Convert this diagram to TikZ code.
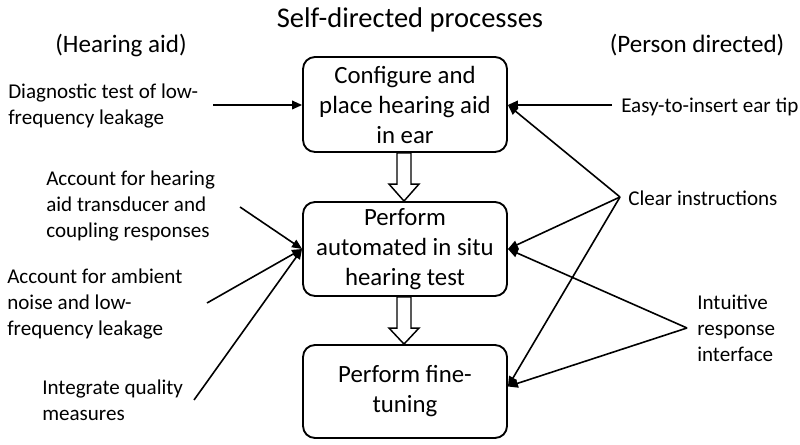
\documentclass[tikz,border=0pt]{standalone}
\usepackage{fontspec}
\setmainfont{Carlito}
\usetikzlibrary{arrows.meta,calc}
\begin{document}
\begin{tikzpicture}[x=0.75pt,y=-0.75pt,
  procbox/.style={draw,line width=1.4pt,rounded corners=9pt,minimum width=153pt,align=center,inner sep=0pt,font=\fontsize{18.6}{22.5}\selectfont},
  lbl/.style={inner sep=0pt,align=left,font=\fontsize{15.8}{19.5}\selectfont},
  head/.style={inner sep=0pt,font=\fontsize{18.8}{22}\selectfont},
  arr/.style={line width=1.2pt,-{Triangle[length=7.5pt,width=6.5pt]}},
  hollow/.style={draw,line width=1.1pt,fill=white,line join=miter}]
\clip (0,0) rectangle (800,445);
\fill[white] (0,0) rectangle (800,445);
% titles
\node[head,font=\fontsize{21.4}{24}\selectfont] (title) at (410,20) {Self-directed processes};
\node[head] (ha) at (121,45) {(Hearing aid)};
\node[head] (pd) at (697,45) {(Person directed)};
% process boxes
\node[procbox,minimum height=71.25pt] (b1) at (405,104.5) {Configure and\\place hearing aid\\in ear};
\node[procbox,minimum height=70.5pt] (b2) at (405,249) {Perform\\automated in situ\\hearing test};
\node[procbox,minimum height=69.75pt] (b3) at (405,391.5) {Perform fine-\\tuning};
% hollow arrows
\draw[hollow] ($(b1.south)+(-8,0)$) -- ($(b1.south)+(6,0)$) -- ($(b2.north)+(6,-17)$) -- ($(b2.north)+(14,-17)$) -- ($(b2.north)+(-1,0)$) -- ($(b2.north)+(-16,-17)$) -- ($(b2.north)+(-8,-17)$) -- cycle;
\draw[hollow] ($(b2.south)+(-8,0)$) -- ($(b2.south)+(6,0)$) -- ($(b3.north)+(6,-16)$) -- ($(b3.north)+(14,-16)$) -- ($(b3.north)+(-1,0)$) -- ($(b3.north)+(-16,-16)$) -- ($(b3.north)+(-8,-16)$) -- cycle;
% left labels
\node[lbl,anchor=west] (diag) at (8,106) {Diagnostic test of low-\\frequency leakage};
\node[lbl,anchor=west] (acc1) at (46,206) {Account for hearing\\aid transducer and\\coupling responses};
\node[lbl,anchor=west] (acc2) at (7,304) {Account for ambient\\noise and low-\\frequency leakage};
\node[lbl,anchor=west] (integ) at (42,400.5) {Integrate quality\\measures};
% right labels
\node[lbl,anchor=west] (easy) at (621,107) {Easy-to-insert ear tip};
\node[lbl,anchor=west] (clear) at (628,198) {Clear instructions};
\node[lbl,anchor=west] (intu) at (697,328) {Intuitive\\response\\interface};
% connector start points
\coordinate (sdiag) at (213,105);
\coordinate (sacc1) at (240,207);
\coordinate (sacc2) at (207,303);
\coordinate (sinteg) at (194,400);
\coordinate (seasy) at (612,105);
\coordinate (sclear) at (620,197);
\coordinate (sintu) at (687,328);
% connectors
\draw[arr] (sdiag) -- (b1.west |- sdiag);
\draw[arr] (sacc1) -- (b2.west);
\draw[arr] (sacc2) -- (b2.west);
\draw[arr] (sinteg) -- (b2.west);
\draw[arr] (seasy) -- (b1.east |- seasy);
\draw[arr] (sclear) -- (b1.east |- seasy);
\draw[arr] (sclear) -- (b2.east);
\draw[arr] (sclear) -- ($(b3.east)+(0,-5)$);
\draw[arr] (sintu) -- (b2.east);
\draw[arr] (sintu) -- ($(b3.east)+(0,-5)$);
\end{tikzpicture}
\end{document}
